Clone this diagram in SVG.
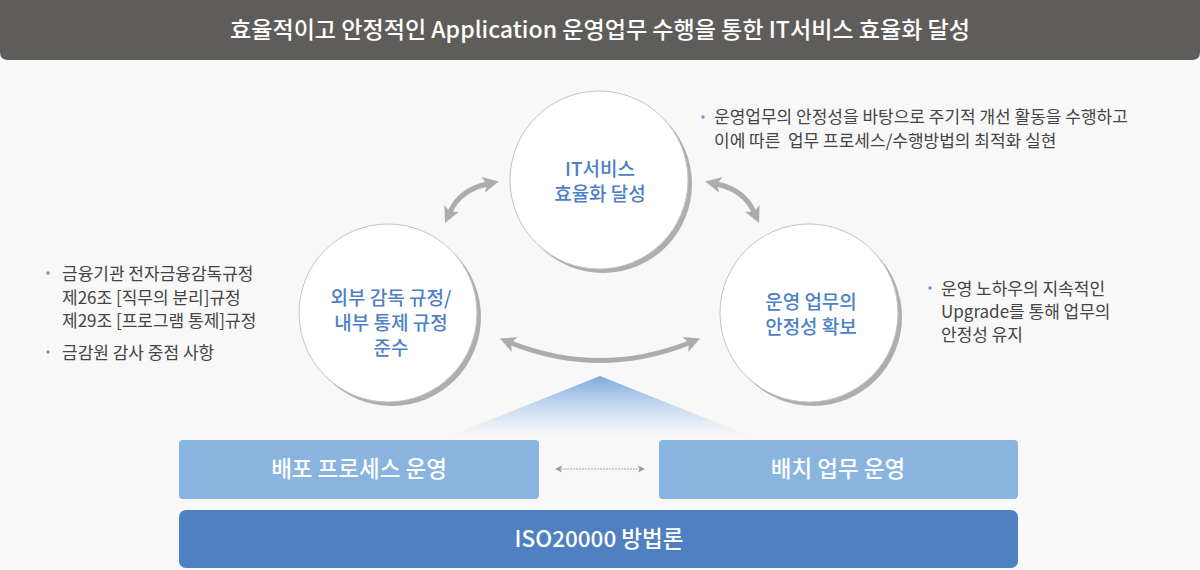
<svg xmlns="http://www.w3.org/2000/svg" width="1200" height="570" viewBox="0 0 1200 570">
<defs>
<style>
.bg{fill:#f8f8f8}
.title{font-family:"Noto Sans CJK KR","Noto Sans",sans-serif;font-size:22.5px;font-weight:500;fill:#ffffff;text-anchor:middle}
.shadow{fill:#aeaeae}
.circ{fill:#ffffff;stroke:#c4c4c4;stroke-width:1}
.ctext{font-family:"Noto Sans CJK KR","Noto Sans",sans-serif;font-size:19px;font-weight:500;fill:#4d80c6;text-anchor:middle}
.desc{font-family:"Noto Sans CJK KR","Noto Sans",sans-serif;font-size:17px;font-weight:400;fill:#444444}
.bullet{fill:#6a93cf}
.arc{fill:none;stroke:#acacac;stroke-width:5}
.box1{fill:#8ab4e0}
.box2{fill:#4f80c2}
.btext{font-family:"Noto Sans CJK KR","Noto Sans",sans-serif;font-size:22.5px;font-weight:500;fill:#ffffff;text-anchor:middle}
.dash{fill:none;stroke:#aaaaaa;stroke-width:1;stroke-dasharray:2 1}
</style>
<marker id="ah" viewBox="0 -9 18 18" refX="4" refY="0" markerWidth="18" markerHeight="18" markerUnits="userSpaceOnUse" orient="auto-start-reverse">
<path d="M0,-8 L16,0 L0,8 L4,0 z" fill="#acacac"/>
</marker>
<marker id="sh" viewBox="0 -4 8 8" refX="1" refY="0" markerWidth="8" markerHeight="8" markerUnits="userSpaceOnUse" orient="auto-start-reverse">
<path d="M0,-3.5 L7,0 L0,3.5 L1.5,0 z" fill="#9a9a9a"/>
</marker>
<linearGradient id="tri" x1="0" y1="0" x2="0" y2="1">
<stop offset="0" stop-color="#7aa8de" stop-opacity="1"/>
<stop offset="1" stop-color="#b8d0ee" stop-opacity="0"/>
</linearGradient>
</defs>
<rect class="bg" x="0" y="0" width="1200" height="570"/>
<g id="title">
<path d="M0,0 H1200 V52 Q1200,60 1192,60 H8 Q0,60 0,52 Z" fill="#5f5d59"/>
<text class="title" x="600" y="38" textLength="740" lengthAdjust="spacingAndGlyphs">효율적이고 안정적인 Application 운영업무 수행을 통한 IT서비스 효율화 달성</text>
</g>
<polygon points="600,376 445,438 755,438" fill="url(#tri)"/>
<g id="connectors">
<path class="arc" d="M450,212 Q460,190 487,184" marker-start="url(#ah)" marker-end="url(#ah)"/>
<path class="arc" d="M754,212 Q744,190 717,184" marker-start="url(#ah)" marker-end="url(#ah)"/>
<path class="arc" d="M511,343 Q600,378 689,343" marker-start="url(#ah)" marker-end="url(#ah)"/>
<path class="dash" d="M561,469 H639" marker-start="url(#sh)" marker-end="url(#sh)"/>
</g>
<g id="node-top">
<circle class="shadow" cx="603" cy="184" r="89"/>
<circle class="circ" cx="599" cy="180" r="89"/>
<text class="ctext" x="600" y="176"><tspan x="600">IT서비스</tspan><tspan x="600" dy="25">효율화 달성</tspan></text>
</g>
<g id="node-left">
<circle class="shadow" cx="392" cy="317" r="89"/>
<circle class="circ" cx="388" cy="313" r="89"/>
<text class="ctext" x="391" y="305"><tspan x="391">외부 감독 규정/</tspan><tspan x="391" dy="25">내부 통제 규정</tspan><tspan x="391" dy="25">준수</tspan></text>
</g>
<g id="node-right">
<circle class="shadow" cx="813" cy="317" r="89"/>
<circle class="circ" cx="809" cy="313" r="89"/>
<text class="ctext" x="811" y="309"><tspan x="811">운영 업무의</tspan><tspan x="811" dy="25">안정성 확보</tspan></text>
</g>
<g id="note-top">
<circle class="bullet" cx="703" cy="117" r="1.7"/>
<text class="desc" x="714" y="123" xml:space="preserve"><tspan x="714">운영업무의 안정성을 바탕으로 주기적 개선 활동을 수행하고</tspan><tspan x="714" dy="24">이에 따른  업무 프로세스/수행방법의 최적화 실현</tspan></text>
</g>
<g id="note-left">
<circle class="bullet" cx="48" cy="273" r="1.7"/>
<text class="desc" x="62" y="280"><tspan x="62">금융기관 전자금융감독규정</tspan><tspan x="62" dy="24">제26조 [직무의 분리]규정</tspan><tspan x="62" dy="23">제29조 [프로그램 통제]규정</tspan></text>
<circle class="bullet" cx="48" cy="352" r="1.7"/>
<text class="desc" x="62" y="359">금감원 감사 중점 사항</text>
</g>
<g id="note-right">
<circle class="bullet" cx="930" cy="288" r="1.7"/>
<text class="desc" x="941" y="295"><tspan x="941">운영 노하우의 지속적인</tspan><tspan x="941" dy="23">Upgrade를 통해 업무의</tspan><tspan x="941" dy="23">안정성 유지</tspan></text>
</g>
<g id="box-deploy">
<rect class="box1" x="179" y="440" width="360" height="59" rx="4"/>
<text class="btext" x="359" y="477">배포 프로세스 운영</text>
</g>
<g id="box-batch">
<rect class="box1" x="659" y="440" width="359" height="59" rx="4"/>
<text class="btext" x="838" y="477">배치 업무 운영</text>
</g>
<g id="box-iso">
<rect class="box2" x="179" y="510" width="839" height="58" rx="7"/>
<text class="btext" x="599" y="547">ISO20000 방법론</text>
</g>
</svg>
